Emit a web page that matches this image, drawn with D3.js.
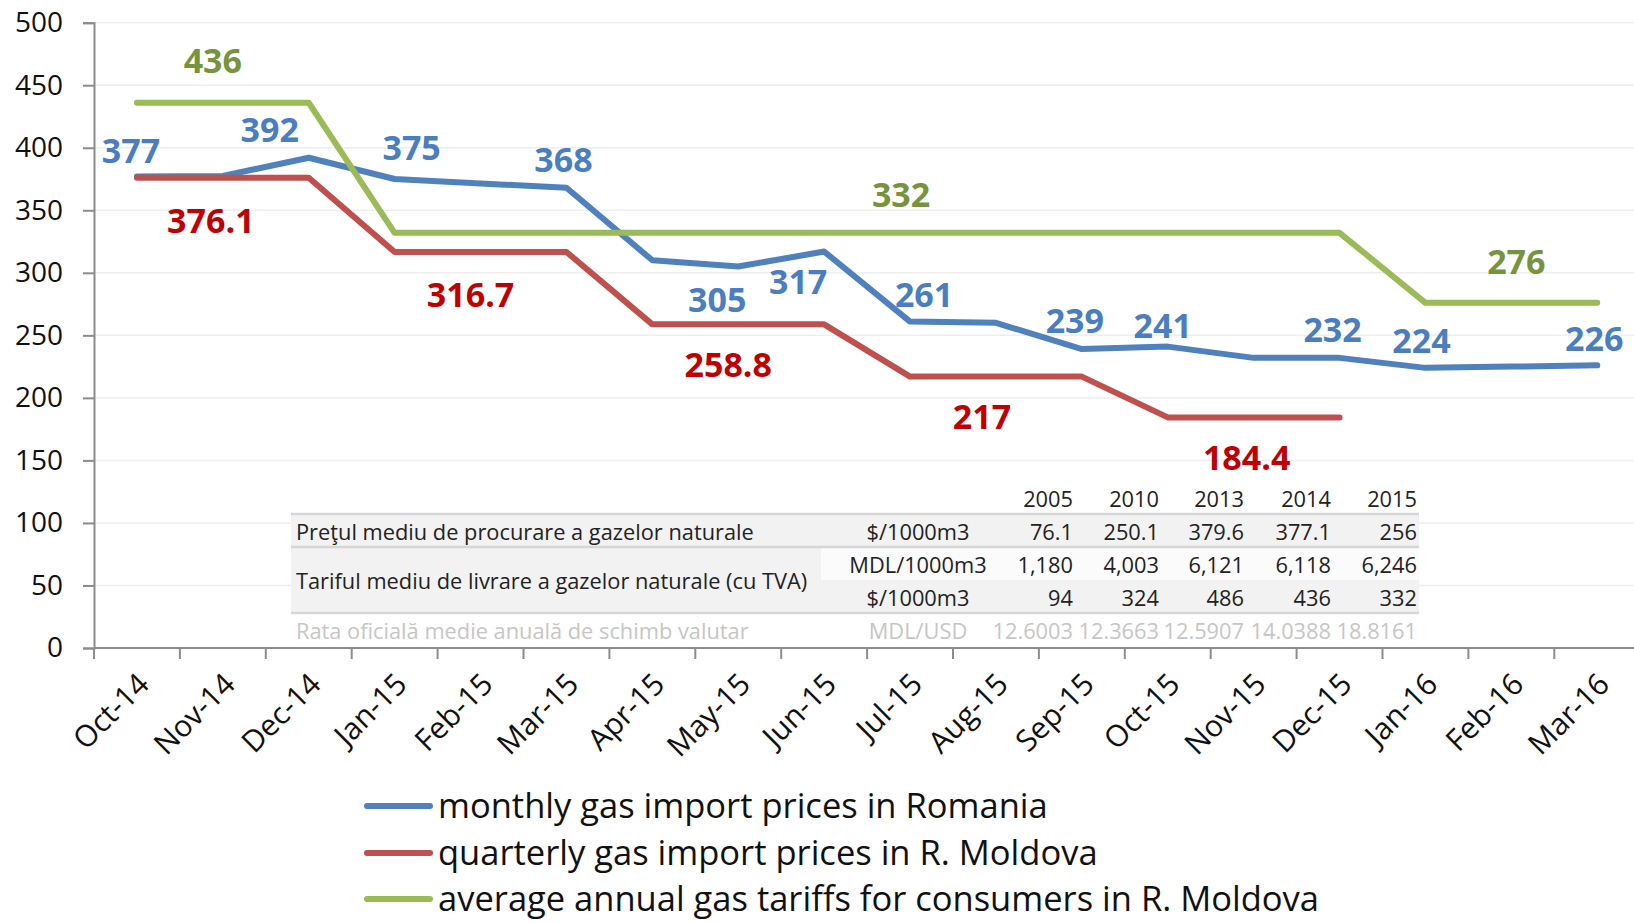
<!DOCTYPE html>
<html>
<head>
<meta charset="utf-8">
<script src="https://cdn.jsdelivr.net/npm/d3@7"></script>
<style>
  html, body { margin: 0; padding: 0; background: #ffffff; overflow: hidden; }
  svg { display: block; font-family: "Open Sans", sans-serif; }
</style>
</head>
<body>
<svg id="chart" width="1634" height="923"></svg>
<script>
// ---------- DATA ----------
const months = ["Oct-14","Nov-14","Dec-14","Jan-15","Feb-15","Mar-15","Apr-15","May-15","Jun-15",
                "Jul-15","Aug-15","Sep-15","Oct-15","Nov-15","Dec-15","Jan-16","Feb-16","Mar-16"];
const romania = [377, 377.5, 392, 375, 371.5, 368, 310, 305, 317, 261, 260, 239, 241, 232, 232, 224, 225, 226];
const moldovaImport = [376.1, 376.1, 376.1, 316.7, 316.7, 316.7, 258.8, 258.8, 258.8, 217, 217, 217, 184.4, 184.4, 184.4, null, null, null];
const moldovaTariff = [436, 436, 436, 332, 332, 332, 332, 332, 332, 332, 332, 332, 332, 332, 332, 276, 276, 276];
const yTicks = [0, 50, 100, 150, 200, 250, 300, 350, 400, 450, 500];
const seriesNames = ["monthly gas import prices in Romania",
                     "quarterly gas import prices in R. Moldova",
                     "average annual gas tariffs for consumers in R. Moldova"];

// table data
const tableYears = ["2005", "2010", "2013", "2014", "2015"];
const tblPriceUnit = "$/1000m3";
const tblPrice = ["76.1", "250.1", "379.6", "377.1", "256"];
const tblTariffMDLUnit = "MDL/1000m3";
const tblTariffMDL = ["1,180", "4,003", "6,121", "6,118", "6,246"];
const tblTariffUSDUnit = "$/1000m3";
const tblTariffUSD = ["94", "324", "486", "436", "332"];
const tblRateUnit = "MDL/USD";
const tblRate = ["12.6003", "12.3663", "12.5907", "14.0388", "18.8161"];
const tblLabels = ["Preţul mediu de procurare a gazelor naturale",
                   "Tariful mediu de livrare a gazelor naturale (cu TVA)",
                   "Rata oficială medie anuală de schimb valutar"];

// data-label placement (series index, point index, offset)
const labelOffsets = [
  {s:0,i:0,dx:-6,dy:-14},{s:0,i:2,dx:-39,dy:-16},{s:0,i:3,dx:17,dy:-19},{s:0,i:5,dx:-3,dy:-16},
  {s:0,i:7,dx:-21,dy:45},{s:0,i:8,dx:-26,dy:42},{s:0,i:9,dx:14,dy:-15},{s:0,i:11,dx:-7,dy:-16},
  {s:0,i:12,dx:-5,dy:-9},{s:0,i:14,dx:-7,dy:-16},{s:0,i:15,dx:-4,dy:-15},{s:0,i:17,dx:-3,dy:-14},
  {s:1,i:1,dx:-12,dy:55},{s:1,i:4,dx:-10,dy:55},{s:1,i:7,dx:-10,dy:53},{s:1,i:10,dx:-14,dy:52},{s:1,i:13,dx:-7,dy:53},
  {s:2,i:1,dx:-10,dy:-30},{s:2,i:9,dx:-9,dy:-26},{s:2,i:16,dx:5,dy:-29}
];

// ---------- LAYOUT ----------
const lineColors = ["#4F81BD", "#C0504D", "#9BBB59"];
const labelColors = ["#4A7EBF", "#C00000", "#77933C"];
const seriesData = [romania, moldovaImport, moldovaTariff];

const plotLeft = 94, bandW = 85.9;
const plotTop = 22.7, plotBottom = 648;

const svg = d3.select("#chart");
const x = d3.scaleBand().domain(months).range([plotLeft, plotLeft + bandW * months.length]).paddingInner(0).paddingOuter(0);
const y = d3.scaleLinear().domain([0, 500]).range([plotBottom, plotTop]);

// gridlines
svg.append("g").selectAll("line").data(yTicks.filter(d => d > 0)).join("line")
  .attr("x1", plotLeft).attr("x2", 1640)
  .attr("y1", d => y(d)).attr("y2", d => y(d))
  .attr("stroke", "#eeeeee").attr("stroke-width", 1.5);

// ---------- TABLE ----------
const tbl = svg.append("g");
const tLeft = 291, tRight = 1419;
const colRight = [1073, 1159, 1244, 1331, 1417];
const unitCx = 918;
const rowY = { header: 498, r1: 531, r2: 564, r3: 597, r4: 630 };
tbl.append("rect").attr("x", tLeft).attr("y", 514).attr("width", tRight - tLeft).attr("height", 33).attr("fill", "#f2f2f2");
tbl.append("rect").attr("x", tLeft).attr("y", 547).attr("width", 530).attr("height", 66).attr("fill", "#f2f2f2");
tbl.append("rect").attr("x", tLeft + 530).attr("y", 547).attr("width", tRight - tLeft - 530).attr("height", 33).attr("fill", "#fbfbfb");
tbl.append("rect").attr("x", tLeft + 530).attr("y", 580).attr("width", tRight - tLeft - 530).attr("height", 33).attr("fill", "#f2f2f2");
[514, 547, 613].forEach(v => {
  tbl.append("line").attr("x1", tLeft).attr("x2", tRight).attr("y1", v).attr("y2", v)
    .attr("stroke", "#d6d6d6").attr("stroke-width", 2.5);
});
const tFont = 21.8;
function tText(str, xx, yy, anchor, color) {
  tbl.append("text").attr("x", xx).attr("y", yy).attr("text-anchor", anchor)
    .attr("dominant-baseline", "central").attr("font-size", tFont).attr("fill", color).text(str);
}
tableYears.forEach((d, k) => tText(d, colRight[k], rowY.header, "end", "#222"));
tText(tblLabels[0], 296, rowY.r1, "start", "#222");
tText(tblPriceUnit, unitCx, rowY.r1, "middle", "#222");
tblPrice.forEach((d, k) => tText(d, colRight[k], rowY.r1, "end", "#222"));
tText(tblLabels[1], 296, (rowY.r2 + rowY.r3) / 2, "start", "#222");
tText(tblTariffMDLUnit, unitCx, rowY.r2, "middle", "#222");
tblTariffMDL.forEach((d, k) => tText(d, colRight[k], rowY.r2, "end", "#222"));
tText(tblTariffUSDUnit, unitCx, rowY.r3, "middle", "#222");
tblTariffUSD.forEach((d, k) => tText(d, colRight[k], rowY.r3, "end", "#222"));
tText(tblLabels[2], 296, rowY.r4, "start", "#c6c6c6");
tText(tblRateUnit, unitCx, rowY.r4, "middle", "#c6c6c6");
tblRate.forEach((d, k) => tText(d, colRight[k], rowY.r4, "end", "#c6c6c6"));

// ---------- AXES ----------
const yAxis = svg.append("g").attr("transform", `translate(${plotLeft},0)`)
  .call(d3.axisLeft(y).tickValues(yTicks).tickSize(11).tickPadding(20));
yAxis.select(".domain").attr("stroke", "#8c8c8c").attr("stroke-width", 2);
yAxis.selectAll(".tick line").attr("stroke", "#8c8c8c").attr("stroke-width", 2);
yAxis.selectAll(".tick text").attr("font-size", 28).attr("fill", "#111").attr("font-family", "Open Sans");

const xAxisG = svg.append("g").attr("transform", `translate(0,${plotBottom})`);
xAxisG.append("line").attr("x1", plotLeft).attr("x2", 1640).attr("y1", 0).attr("y2", 0)
  .attr("stroke", "#8c8c8c").attr("stroke-width", 2);
const edges = d3.range(months.length + 1).map(k => plotLeft + k * x.bandwidth());
xAxisG.selectAll("line.tk").data(edges).join("line").attr("class", "tk")
  .attr("x1", d => d).attr("x2", d => d).attr("y1", 0).attr("y2", 11)
  .attr("stroke", "#8c8c8c").attr("stroke-width", 2);
xAxisG.selectAll("text.lbl").data(months).join("text").attr("class", "lbl")
  .attr("transform", d => `translate(${x(d) + x.bandwidth() / 2 + 14},${38}) rotate(-45)`)
  .attr("text-anchor", "end").attr("font-size", 30).attr("fill", "#111").text(d => d);

// ---------- LINES ----------
const line = d3.line()
  .defined(d => d.v != null)
  .x(d => x(d.m) + x.bandwidth() / 2)
  .y(d => y(d.v));
seriesData.forEach((arr, s) => {
  svg.append("path")
    .datum(arr.map((v, i) => ({ m: months[i], v })))
    .attr("d", line)
    .attr("fill", "none")
    .attr("stroke", lineColors[s])
    .attr("stroke-width", 6)
    .attr("stroke-linejoin", "round")
    .attr("stroke-linecap", "round");
});

// ---------- DATA LABELS ----------
svg.append("g").selectAll("text").data(labelOffsets).join("text")
  .attr("x", d => x(months[d.i]) + x.bandwidth() / 2 + d.dx)
  .attr("y", d => y(seriesData[d.s][d.i]) + d.dy)
  .attr("text-anchor", "middle")
  .attr("font-size", 34).attr("font-weight", 700)
  .attr("fill", d => labelColors[d.s])
  .text(d => String(seriesData[d.s][d.i]));

// ---------- LEGEND ----------
const lg = svg.append("g");
const legY = [804, 851, 897];
seriesNames.forEach((n, s) => {
  lg.append("line").attr("x1", 367).attr("x2", 430).attr("y1", legY[s] + 2).attr("y2", legY[s] + 2)
    .attr("stroke", lineColors[s]).attr("stroke-width", 6).attr("stroke-linecap", "round");
  lg.append("text").attr("x", 438).attr("y", legY[s]).attr("dominant-baseline", "central")
    .attr("font-size", 34.5).attr("fill", "#111").text(n);
});
</script>
</body>
</html>
